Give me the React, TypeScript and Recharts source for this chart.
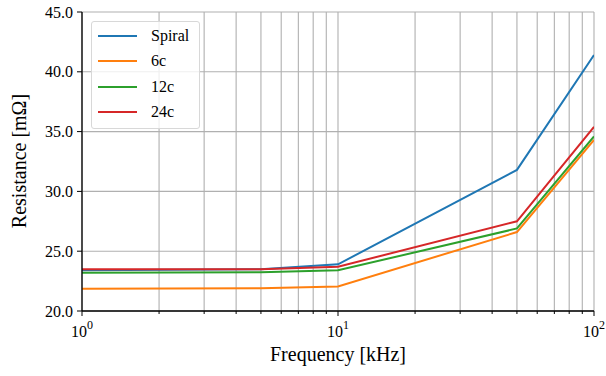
import { LineChart, Line, XAxis, YAxis, CartesianGrid } from 'recharts'

const FREQ = [1, 5, 10, 50, 100]
const SPIRAL = [23.4, 23.5, 23.9, 31.8, 41.4]
const C6 = [21.85, 21.9, 22.05, 26.6, 34.3]
const C12 = [23.2, 23.25, 23.4, 26.9, 34.6]
const C24 = [23.5, 23.5, 23.7, 27.5, 35.4]

const X_TICKS = [1, 2, 3, 4, 5, 6, 7, 8, 9, 10, 20, 30, 40, 50, 60, 70, 80, 90, 100]
const Y_TICKS = [20, 25, 30, 35, 40, 45]

const SERIES = [
  { key: 'spiral', label: 'Spiral', color: '#1f77b4' },
  { key: 'c6', label: '6c', color: '#ff7f0e' },
  { key: 'c12', label: '12c', color: '#2ca02c' },
  { key: 'c24', label: '24c', color: '#d62728' },
]

const data = FREQ.map((f, i) => ({ f, spiral: SPIRAL[i], c6: C6[i], c12: C12[i], c24: C24[i] }))

const FONT = '"Liberation Serif", "DejaVu Serif", serif'

// eslint-disable-next-line @typescript-eslint/no-explicit-any
function XTick({ x, y, payload }: any) {
  const v = payload.value as number
  const exp = Math.log10(v)
  const major = Math.abs(exp - Math.round(exp)) < 1e-9
  return (
    <g>
      <line x1={x} x2={x} y1={y} y2={y + (major ? 5 : 3)} stroke="#000" strokeWidth={1} />
      {major && (
        <text x={x} y={y + 26} textAnchor="middle" fontSize={16} fontFamily={FONT} fill="#000">
          10<tspan dy={-8} fontSize={12}>{Math.round(exp)}</tspan>
        </text>
      )}
    </g>
  )
}

function LegendBox() {
  return (
    <div
      style={{
        position: 'absolute',
        left: 91,
        top: 21,
        width: 109,
        height: 108,
        boxSizing: 'border-box',
        border: '1px solid #d8d8d8',
        borderRadius: 3,
        background: 'rgba(255,255,255,0.8)',
        padding: '1px 0 0 6px',
        fontFamily: FONT,
        fontSize: 16,
        lineHeight: '16px',
      }}
    >
      {SERIES.map(s => (
        <div key={s.key} style={{ display: 'flex', alignItems: 'center', height: 25.5 }}>
          <span style={{ display: 'inline-block', width: 39, height: 2, background: s.color, marginRight: 14 }} />
          <span>{s.label}</span>
        </div>
      ))}
    </div>
  )
}

export default function App() {
  return (
    <div style={{ position: 'relative', width: 606, height: 376, background: '#fff' }}>
      <style>{'body{margin:0}'}</style>
      <LineChart width={606} height={376} data={data} margin={{ top: 12, right: 12, bottom: 0, left: 0 }}>
        <CartesianGrid stroke="#b0b0b0" strokeWidth={1.1} />
        <XAxis
          dataKey="f"
          type="number"
          scale="log"
          domain={[1, 100]}
          ticks={X_TICKS}
          interval={0}
          allowDataOverflow
          tickSize={0}
          tickMargin={0}
          tickLine={false}
          tick={<XTick />}
          axisLine={{ stroke: '#000', strokeWidth: 1.3 }}
          height={65}
          label={{
            content: () => (
              <text x={338} y={361} textAnchor="middle" fontSize={20} fontFamily={FONT} fill="#000">
                Frequency [kHz]
              </text>
            ),
          }}
        />
        <XAxis xAxisId="top" orientation="top" dataKey="f" type="number" scale="log" domain={[1, 100]} allowDataOverflow height={0} tick={false} tickLine={false} axisLine={{ stroke: '#000', strokeWidth: 1.3 }} />
        <YAxis
          domain={[20, 45]}
          ticks={Y_TICKS}
          interval={0}
          allowDataOverflow
          width={82}
          tickSize={5}
          tickMargin={4}
          tickLine={{ stroke: '#000' }}
          axisLine={{ stroke: '#000', strokeWidth: 1.3 }}
          tickFormatter={(v: number) => v.toFixed(1)}
          tick={{ fill: '#000', fontSize: 16, fontFamily: FONT }}
          label={{
            content: () => (
              <text x={26} y={161} textAnchor="middle" fontSize={20} fontFamily={FONT} fill="#000" transform="rotate(-90 26 161)">
                Resistance [mΩ]
              </text>
            ),
          }}
        />
        <YAxis yAxisId="right" orientation="right" domain={[20, 45]} width={0} tick={false} tickLine={false} axisLine={{ stroke: '#000', strokeWidth: 1.3 }} />
        {SERIES.map(s => (
          <Line
            key={s.key}
            dataKey={s.key}
            stroke={s.color}
            strokeWidth={2}
            dot={false}
            type="linear"
            isAnimationActive={false}
          />
        ))}
      </LineChart>
      <LegendBox />
    </div>
  )
}
